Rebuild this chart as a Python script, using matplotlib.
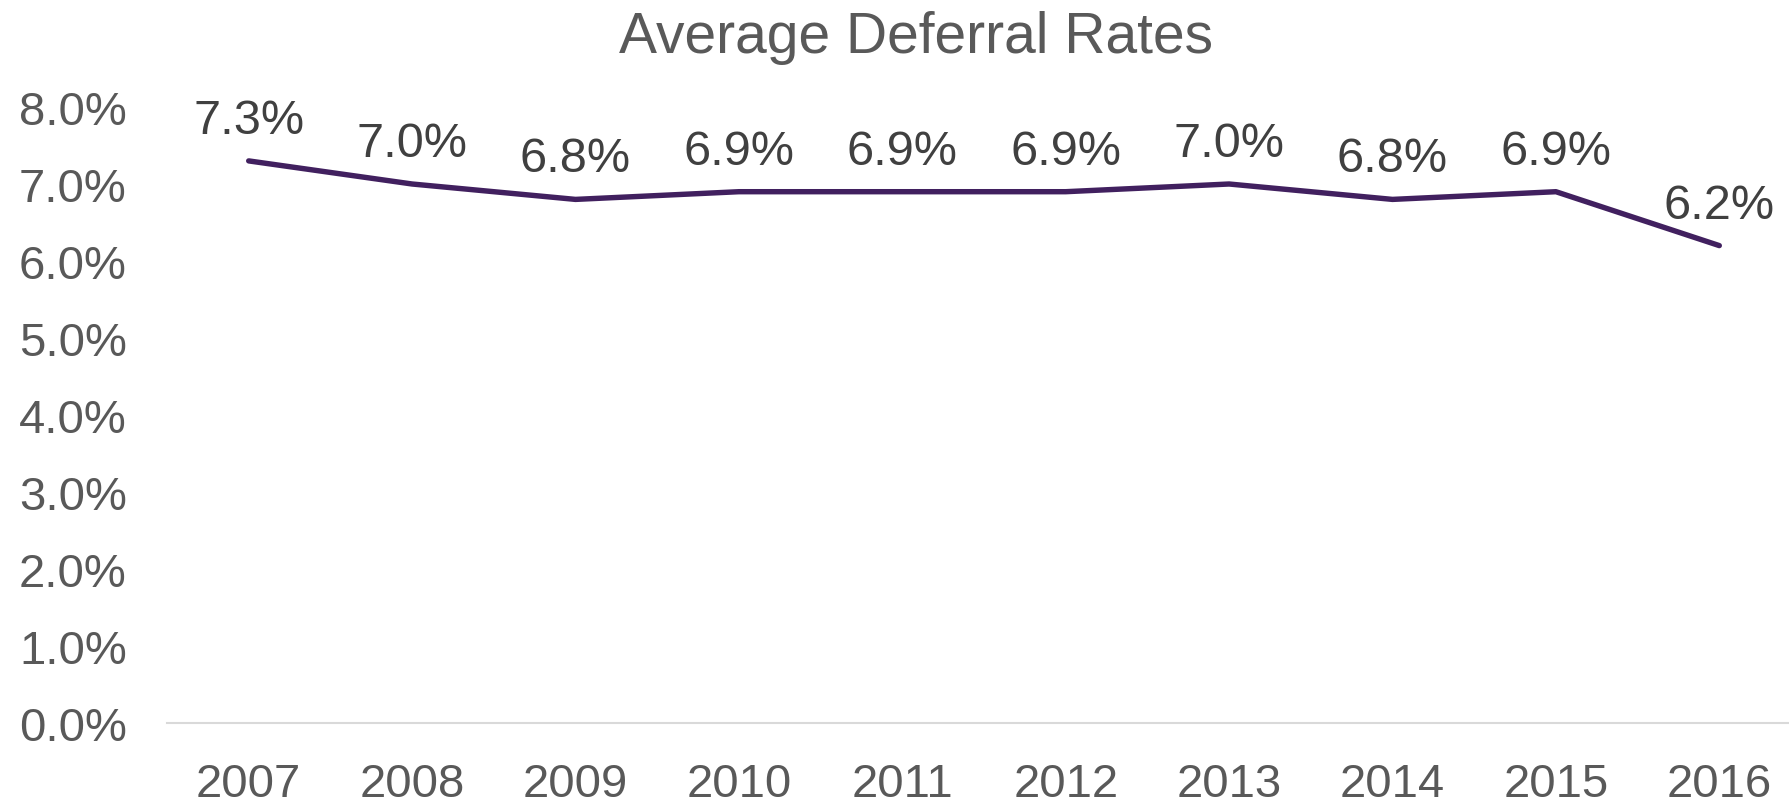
import matplotlib.pyplot as plt
from matplotlib.ticker import PercentFormatter

plt.rcParams["font.family"] = ["Liberation Sans", "DejaVu Sans"]

# Average deferral rate per plan year (percent)
years = ["2007", "2008", "2009", "2010", "2011", "2012", "2013", "2014", "2015", "2016"]
rates = [7.3, 7.0, 6.8, 6.9, 6.9, 6.9, 7.0, 6.8, 6.9, 6.2]
y_ticks = [0, 1, 2, 3, 4, 5, 6, 7, 8]

LINE_COLOR = "#41205F"
TICK_COLOR = "#595959"
LABEL_COLOR = "#404040"

fig = plt.figure(figsize=(17.9, 8.04), dpi=100)
# plot area runs a little past the right edge of the canvas
ax = fig.add_axes([167 / 1790, 80 / 804, 1634 / 1790, 616 / 804])

x = list(range(len(years)))
ax.plot(x, rates, color=LINE_COLOR, linewidth=3.9, solid_capstyle="round",
        solid_joinstyle="round")

for xi, val in zip(x, rates):
    ax.annotate(f"{val:.1f}%", (xi, val), textcoords="offset points",
                xytext=(0, 13), ha="center", va="bottom",
                fontsize=35, color=LABEL_COLOR)

ax.set_xlim(-0.5, len(years) - 0.5)
ax.set_ylim(0, 8)
ax.set_xticks(x)
ax.set_xticklabels(years)
ax.set_yticks(y_ticks)
ax.yaxis.set_major_formatter(PercentFormatter(decimals=1))

ax.tick_params(axis="both", length=0, labelsize=34, colors=TICK_COLOR)
ax.tick_params(axis="x", pad=28)
ax.tick_params(axis="y", pad=29)

for side in ("top", "right", "left"):
    ax.spines[side].set_visible(False)
ax.spines["bottom"].set_color("#D9D9D9")
ax.spines["bottom"].set_linewidth(1.5)

fig.text(0.512, 0.953, "Average Deferral Rates", ha="center", va="center",
         fontsize=41, color=TICK_COLOR)

fig.savefig("out.png", dpi=100, facecolor="white")
